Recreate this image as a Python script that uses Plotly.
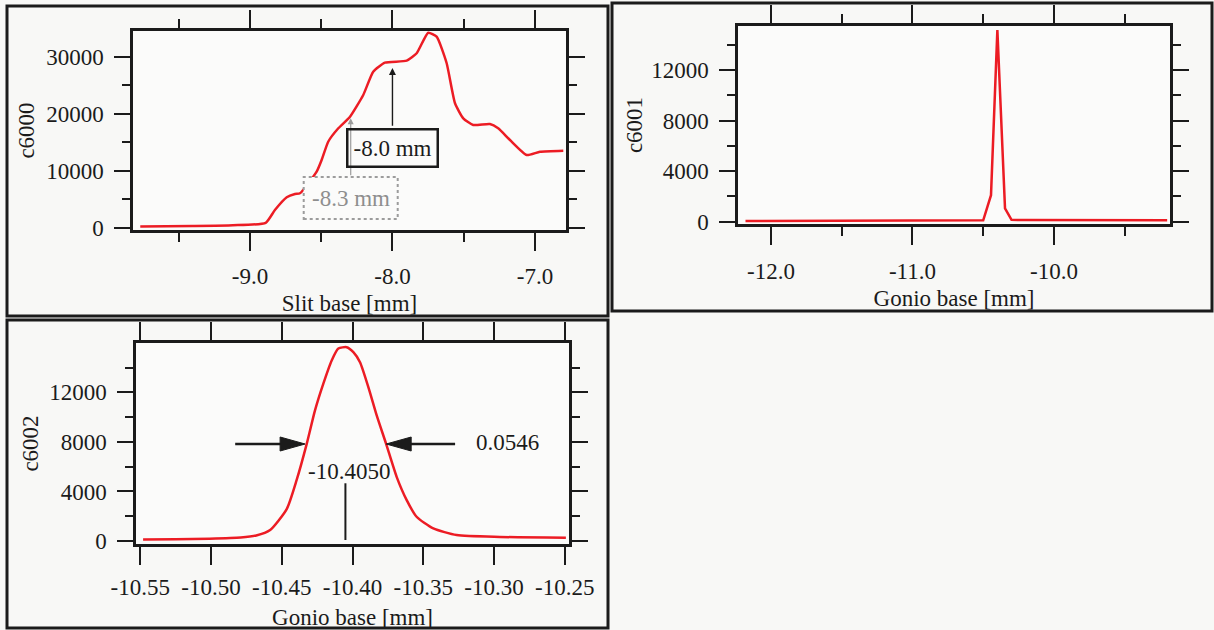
import plotly.graph_objects as go

# ---------------- data ----------------
slit_x = [-9.77, -9.40, -9.12, -8.89, -8.825, -8.742, -8.684, -8.649, -8.532, -8.497,
          -8.451, -8.380, -8.298, -8.205, -8.135, -8.053, -7.900, -7.830, -7.749, -7.690,
          -7.620, -7.561, -7.503, -7.433, -7.316, -7.258, -7.175, -7.058, -6.965, -6.801]
c6000 = [250, 350, 480, 900, 3150, 5380, 5950, 6080, 9860, 11900,
         15110, 17460, 19490, 23290, 27370, 28950, 29300, 30600, 34200, 33500,
         28900, 21840, 19210, 18040, 18210, 17460, 15410, 12780, 13360, 13540]

gonio_x1 = [-12.18, -11.5, -11.0, -10.6, -10.50, -10.445, -10.40, -10.346, -10.30, -10.2, -9.5, -9.2]
c6001 = [60, 70, 80, 90, 110, 2100, 15150, 1060, 150, 130, 110, 110]

gonio_x2 = [-10.548, -10.525, -10.501, -10.479, -10.468, -10.4582, -10.4464, -10.4394, -10.4323,
            -10.4265, -10.4206, -10.4147, -10.4100, -10.4041, -10.3994, -10.3947, -10.3888,
            -10.3829, -10.3763, -10.3688, -10.3617, -10.3547, -10.3429, -10.3264, -10.2958, -10.2492]
c6002 = [120, 150, 190, 280, 450, 890, 2600, 4950, 7860,
         10540, 12700, 14570, 15530, 15640, 15240, 14430, 12420,
         10140, 7860, 5180, 3300, 1960, 1020, 480, 330, 270]

x1_ticks = [-9.0, -8.0, -7.0]
x1_text = ["-9.0", "-8.0", "-7.0"]
y1_ticks = [0, 10000, 20000, 30000]
y1_text = ["0", "10000", "20000", "30000"]
x2_ticks = [-12.0, -11.0, -10.0]
x2_text = ["-12.0", "-11.0", "-10.0"]
y2_ticks = [0, 4000, 8000, 12000]
y2_text = ["0", "4000", "8000", "12000"]
x3_ticks = [-10.55, -10.50, -10.45, -10.40, -10.35, -10.30, -10.25]
x3_text = ["-10.55", "-10.50", "-10.45", "-10.40", "-10.35", "-10.30", "-10.25"]
y3_ticks = [0, 4000, 8000, 12000]
y3_text = ["0", "4000", "8000", "12000"]

# annotation values
peak_center = -10.4050
fwhm = 0.0546
half_level = 7830
lbl_a, lbl_a_x, lbl_a_y, lbl_a_tip = "-8.0 mm", -8.0, 14000, 28000
lbl_b, lbl_b_x, lbl_b_y, lbl_b_tip = "-8.3 mm", -8.293, 5250, 19200

# ---------------- layout helpers ----------------
W, H = 1214, 630
FONT = "Liberation Serif"
RED = "#ec1c24"
INK = "#1b1b1b"


def dx(l, r):
    return [l / W, r / W]


def dy(t, b):
    return [1 - b / H, 1 - t / H]


def axis(domain, rng, tv, tt, anchor, title, minor_dtick=None, minor_tick0=0,
         title_standoff=8, label_standoff=10, ticklen=18):
    d = dict(
        domain=domain, range=rng, anchor=anchor, autorange=False,
        tickmode="array", tickvals=tv, ticktext=tt,
        ticks="outside", ticklen=ticklen, tickwidth=2, tickcolor=INK,
        showline=True, linecolor=INK, linewidth=2.5, mirror="ticks",
        showgrid=False, zeroline=False,
        tickfont=dict(family=FONT, size=23, color=INK),
        ticklabelstandoff=label_standoff,
        title=dict(text=title, font=dict(family=FONT, size=23, color=INK),
                   standoff=title_standoff),
        automargin=False, fixedrange=True,
    )
    if minor_dtick is not None:
        d["minor"] = dict(dtick=minor_dtick, tick0=minor_tick0, ticks="outside",
                          ticklen=ticklen // 2, tickwidth=2, tickcolor=INK, showgrid=False)
    return d


fig = go.Figure()
fig.add_trace(go.Scatter(x=slit_x, y=c6000, mode="lines", xaxis="x", yaxis="y",
                         line=dict(color=RED, width=2.5, shape="spline", smoothing=0.5)))
fig.add_trace(go.Scatter(x=gonio_x1, y=c6001, mode="lines", xaxis="x2", yaxis="y2",
                         line=dict(color=RED, width=2.5)))
fig.add_trace(go.Scatter(x=gonio_x2, y=c6002, mode="lines", xaxis="x3", yaxis="y3",
                         line=dict(color=RED, width=2.5, shape="spline", smoothing=0.6)))

fig.update_layout(
    width=W, height=H, margin=dict(l=0, r=0, t=0, b=0),
    paper_bgcolor="#f8f8f6", plot_bgcolor="#fbfbfa",
    showlegend=False,
    xaxis=axis(dx(133, 566), [-9.821, -6.782], x1_ticks, x1_text, "y", "Slit base [mm]",
               minor_dtick=0.5, minor_tick0=-9.0, label_standoff=6, title_standoff=7),
    yaxis=axis(dy(31, 230), [-350, 34500], y1_ticks, y1_text, "x", "c6000",
               minor_dtick=5000, ticklen=16, label_standoff=6, title_standoff=6),
    xaxis2=axis(dx(738, 1170), [-12.233, -9.18], x2_ticks, x2_text, "y2", "Gonio base [mm]",
                minor_dtick=0.5, minor_tick0=-12.0, label_standoff=7, title_standoff=7),
    yaxis2=axis(dy(26, 224), [-180, 15480], y2_ticks, y2_text, "x2", "c6001",
                minor_dtick=2000, ticklen=16, label_standoff=6, title_standoff=3),
    xaxis3=axis(dx(136, 569), [-10.553, -10.247], x3_ticks, x3_text, "y3", "Gonio base [mm]",
                label_standoff=3, title_standoff=12),
    yaxis3=axis(dy(343, 544), [-240, 15980], y3_ticks, y3_text, "x3", "c6002",
                minor_dtick=2000, ticklen=16, label_standoff=6, title_standoff=5),
)

shapes = []
# outer panel frames
for (l, t, r, b) in [(7, 6, 608, 316), (612, 3, 1212, 311), (7, 320, 608, 628)]:
    shapes.append(dict(type="rect", xref="paper", yref="paper",
                       x0=l / W, x1=r / W, y0=1 - b / H, y1=1 - t / H,
                       line=dict(color=INK, width=3), layer="above"))
# gray dotted label box (-8.3 mm)
shapes.append(dict(type="rect", xref="x", yref="y", xsizemode="pixel", ysizemode="pixel",
                   xanchor=lbl_b_x, yanchor=lbl_b_y, x0=-47, x1=47, y0=-21, y1=21,
                   fillcolor="#fbfbfa", line=dict(color="#9c9c9c", width=2, dash="dot"),
                   layer="above"))
# FWHM arrows (panel 3)
left_tip = peak_center - fwhm / 2 - 0.0012
right_tip = peak_center + fwhm / 2 + 0.0015
shapes.append(dict(type="line", xref="x3", yref="y3", x0=-10.4829, x1=left_tip - 0.015,
                   y0=half_level, y1=half_level, line=dict(color=INK, width=2.5), layer="above"))
shapes.append(dict(type="line", xref="x3", yref="y3", x0=-10.3275, x1=right_tip + 0.015,
                   y0=half_level, y1=half_level, line=dict(color=INK, width=2.5), layer="above"))
shapes.append(dict(type="path", xref="x3", yref="y3", xsizemode="pixel", ysizemode="pixel",
                   xanchor=left_tip, yanchor=half_level, path="M0,0 L-25,7 L-25,-7 Z",
                   fillcolor=INK, line=dict(color=INK, width=1), layer="above"))
shapes.append(dict(type="path", xref="x3", yref="y3", xsizemode="pixel", ysizemode="pixel",
                   xanchor=right_tip, yanchor=half_level, path="M0,0 L25,7 L25,-7 Z",
                   fillcolor=INK, line=dict(color=INK, width=1), layer="above"))
# centre marker line
shapes.append(dict(type="line", xref="x3", yref="y3", x0=peak_center, x1=peak_center,
                   y0=80, y1=4660, line=dict(color=INK, width=2), layer="above"))
fig.update_layout(shapes=shapes)

ann = []
# -8.3 mm (gray)
ann.append(dict(x=lbl_b_x, y=lbl_b_tip, ax=lbl_b_x, ay=8990, xref="x", yref="y",
                axref="x", ayref="y", text="", showarrow=True, arrowhead=2,
                arrowsize=1, arrowwidth=1.2, arrowcolor="#9c9c9c"))
ann.append(dict(x=lbl_b_x, y=lbl_b_y, xref="x", yref="y", text=lbl_b, showarrow=False,
                font=dict(family=FONT, size=23, color="#8e8e8e")))
# -8.0 mm (black box)
ann.append(dict(x=lbl_a_x, y=lbl_a_tip, ax=lbl_a_x, ay=17640, xref="x", yref="y",
                axref="x", ayref="y", text="", showarrow=True, arrowhead=2,
                arrowsize=1, arrowwidth=1.4, arrowcolor=INK))
ann.append(dict(x=lbl_a_x, y=lbl_a_y, xref="x", yref="y", text=lbl_a, showarrow=False,
                font=dict(family=FONT, size=23, color=INK),
                bordercolor=INK, borderwidth=2.5, borderpad=5, bgcolor="rgba(0,0,0,0)"))
# panel 3 labels
ann.append(dict(x=-10.2904, y=half_level + 120, xref="x3", yref="y3", text=f"{fwhm:.4f}",
                showarrow=False, font=dict(family=FONT, size=23, color=INK)))
ann.append(dict(x=-10.4024, y=5590, xref="x3", yref="y3", text=f"{peak_center:.4f}",
                showarrow=False, font=dict(family=FONT, size=23, color=INK)))
fig.update_layout(annotations=ann)

fig.write_html("out.html")
